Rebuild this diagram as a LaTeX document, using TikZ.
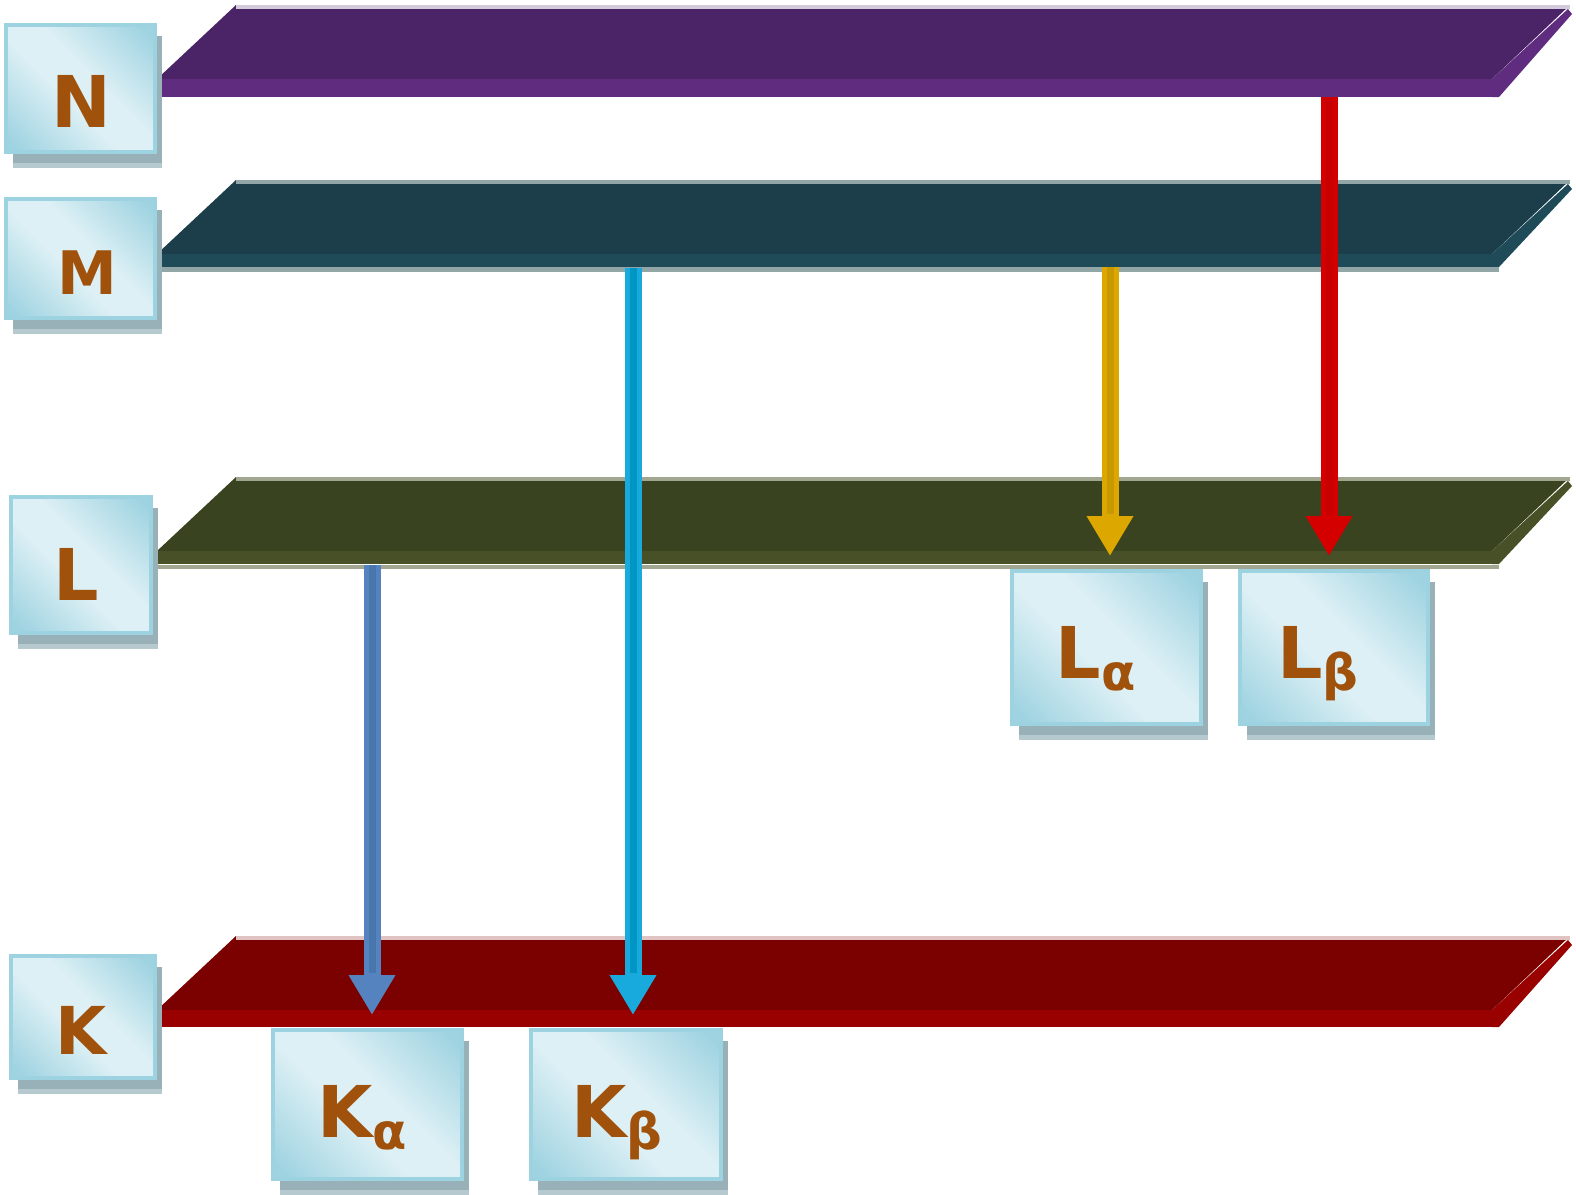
\documentclass[tikz,border=0pt]{standalone}
\usepackage{fontspec}
\setmainfont{DejaVu Sans}
\usetikzlibrary{arrows.meta}
\definecolor{nTop}{HTML}{4A2466}
\definecolor{nBand}{HTML}{5F2C80}
\definecolor{nLine}{HTML}{D3CADC}
\definecolor{mTop}{HTML}{1B3E4A}
\definecolor{mBand}{HTML}{1F4B59}
\definecolor{mLine}{HTML}{93A6A7}
\definecolor{lTop}{HTML}{3A431F}
\definecolor{lBand}{HTML}{475027}
\definecolor{lLine}{HTML}{A0A690}
\definecolor{kTop}{HTML}{7B0000}
\definecolor{kBand}{HTML}{990000}
\definecolor{kLine}{HTML}{E0C4C4}
\definecolor{boxLight}{HTML}{DDF0F5}
\definecolor{boxDark}{HTML}{9FD3E1}
\definecolor{boxEdge}{HTML}{9DD3E0}
\definecolor{shadA}{HTML}{98B0B8}
\definecolor{shadB}{HTML}{B6C9CF}
\definecolor{txtBrown}{HTML}{A0520C}
\definecolor{arYellow}{HTML}{DCA800}
\definecolor{arYellowC}{HTML}{C89800}
\definecolor{arRed}{HTML}{D40000}
\definecolor{arRedC}{HTML}{C80000}
\definecolor{arSteel}{HTML}{5583C0}
\definecolor{arSteelC}{HTML}{4A76AE}
\definecolor{arCyan}{HTML}{18AADC}
\definecolor{arCyanC}{HTML}{0096C4}
\pgfdeclareverticalshading{boxshade}{100bp}{color(0bp)=(boxDark); color(18bp)=(boxDark); color(44bp)=(boxLight); color(56bp)=(boxLight); color(82bp)=(boxDark); color(100bp)=(boxDark)}
\tikzset{
  lbox/.style={draw=boxEdge, line width=2pt, shading=boxshade, shading angle=-45, inner sep=0pt},
  ltext/.style={font=\bfseries\fontsize{35.7pt}{36pt}\selectfont, text=txtBrown,
    inner sep=0pt, anchor=base},
  arrowline/.style={line width=8.5pt, -{Triangle[width=22pt,length=20pt]}},
  arrowcore/.style={line width=3.5pt}
}
\newcommand{\gsub}[1]{\raisebox{-6pt}{\fontsize{25pt}{25pt}\selectfont\bfseries #1}}
\newcommand{\slab}[5]{%
  \pgfmathsetmacro\slB{#1+74}%
  \pgfmathsetmacro\slC{#1+74+#2}%
  \fill[#3] (157,\slB) -- (236,#1) -- (1570,#1) -- (1492,\slB) -- cycle;
  \fill[#5] (236,#1) rectangle (1570,#1+4);
  \fill[#4] (157,\slB) rectangle (1492,\slC);
  \fill[#4] (1492,\slB) -- (1568,#1+4) -- (1572,#1+9) -- (1499,\slC) -- (1492,\slC) -- cycle;
}
\newcommand{\labbox}[5]{%
  \fill[shadA] (#2+9,#3+13) rectangle (#4+5,#5+9);
  \fill[shadB] (#2+9,#5+9) rectangle (#4+5,#5+14);
  \pgfmathsetmacro\lbW{(#4-#2-4)*0.5}%
  \pgfmathsetmacro\lbH{(#5-#3-4)*0.5}%
  \node[lbox, minimum width=\lbW pt, minimum height=\lbH pt] (#1) at ({(#2+#4)/2},{(#3+#5)/2}) {};
}
\begin{document}
\begin{tikzpicture}[x=0.5pt,y=-0.5pt]
\useasboundingbox (0,0) rectangle (1576,1195);
% plates
\slab{5}{18}{nTop}{nBand}{nLine}
\slab{180}{13}{mTop}{mBand}{mLine}
\fill[mLine] (157,267) rectangle (1499,272);
\slab{477}{13}{lTop}{lBand}{lLine}
\fill[lLine] (157,565) rectangle (1499,569);
\slab{936}{17}{kTop}{kBand}{kLine}
% arrow end points
\coordinate (redS) at (1329,97);
\coordinate (redE) at (1329,556);
\coordinate (yelS) at (1110,267);
\coordinate (yelE) at (1110,556);
\coordinate (stlS) at (372,565);
\coordinate (stlE) at (372,1015);
\coordinate (cyaS) at (633,268);
\coordinate (cyaE) at (633,1015);
% arrows
\draw[arrowline, arRed] (redS) -- (redE);
\draw[arrowcore, arRedC] (redS) -- ([yshift=21pt]redE);
\draw[arrowline, arYellow] (yelS) -- (yelE);
\draw[arrowcore, arYellowC] (yelS) -- ([yshift=21pt]yelE);
\draw[arrowline, arSteel] (stlS) -- (stlE);
\draw[arrowcore, arSteelC] (stlS) -- ([yshift=21pt]stlE);
\draw[arrowline, arCyan] (cyaS) -- (cyaE);
\draw[arrowcore, arCyanC] (cyaS) -- ([yshift=21pt]cyaE);
% label boxes
\labbox{bN}{4}{23}{157}{154}
\labbox{bM}{4}{197}{157}{320}
\labbox{bL}{9}{495}{153}{635}
\labbox{bK}{9}{954}{157}{1080}
\labbox{bLa}{1010}{569}{1203}{726}
\labbox{bLb}{1238}{569}{1430}{726}
\labbox{bKa}{271}{1028}{464}{1181}
\labbox{bKb}{529}{1028}{723}{1181}
% texts
\node[ltext] (tN) at (81,127) {N};
\node[ltext, font=\bfseries\fontsize{30pt}{30pt}\selectfont] (tM) at (87.5,294) {M};
\node[ltext] (tL) at (76.5,600) {L};
\node[ltext, font=\bfseries\fontsize{33pt}{33pt}\selectfont] (tK) at (81,1054) {K};
\node[ltext] (tLa) at (1095.5,678) {L\gsub{α}};
\node[ltext] (tLb) at (1318,678) {L\gsub{β}};
\node[ltext] (tKa) at (362.5,1137) {K\gsub{α}};
\node[ltext] (tKb) at (617,1137) {K\gsub{β}};
\end{tikzpicture}
\end{document}
